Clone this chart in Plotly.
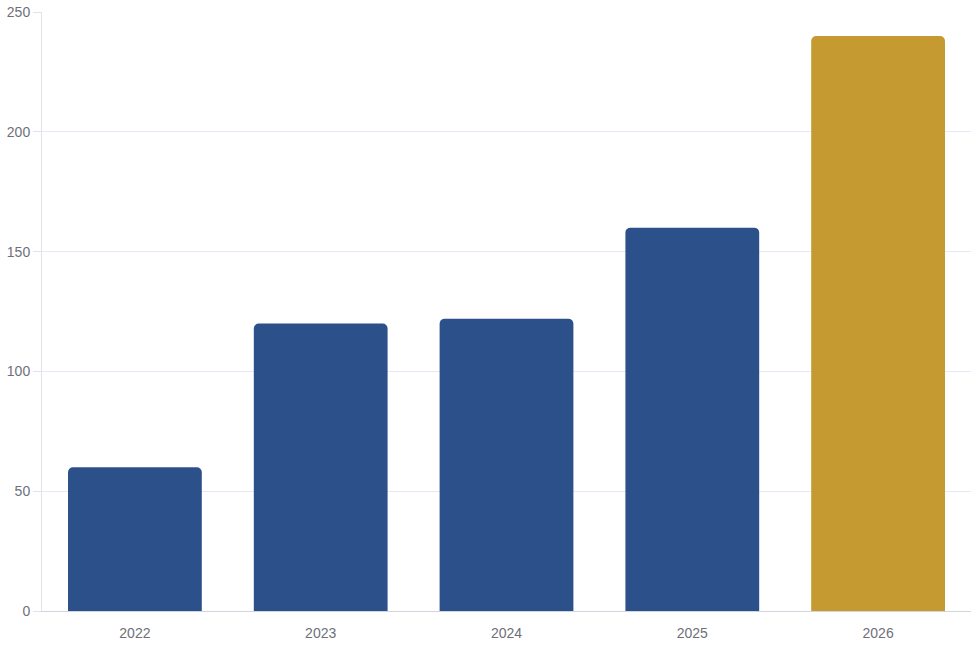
import plotly.graph_objects as go

years = ["2022", "2023", "2024", "2025", "2026"]
values = [60, 120, 122, 160, 240]
bar_colors = ["#2C518A", "#2C518A", "#2C518A", "#2C518A", "#C59A31"]

fig = go.Figure(go.Bar(
    x=years, y=values, marker=dict(color=bar_colors, line=dict(width=0)),
    hoverinfo="x+y",
))
fig.update_layout(
    width=971, height=647,
    margin=dict(l=42, r=0, t=12, b=36),
    paper_bgcolor="white", plot_bgcolor="white",
    bargap=0.28, barcornerradius=5,
    showlegend=False,
    font=dict(family="Liberation Sans, Arial, sans-serif", size=14, color="#6E7079"),
)
fig.update_xaxes(
    showline=True, linecolor="#D2D5DE", linewidth=1,
    showgrid=False, ticks="", tickfont=dict(size=14, color="#6E7079"),
    ticklabelstandoff=9,
)
fig.update_yaxes(
    range=[0, 250], tickvals=[0, 50, 100, 150, 200, 250],
    showline=True, linecolor="#E0E3EA", linewidth=1,
    showgrid=True, gridcolor="#E6E6F6", gridwidth=1,
    ticks="outside", ticklen=8, tickcolor="#E0E3EA",
    tickfont=dict(size=14, color="#6E7079"), zeroline=False,
)
fig.write_html("out.html")
